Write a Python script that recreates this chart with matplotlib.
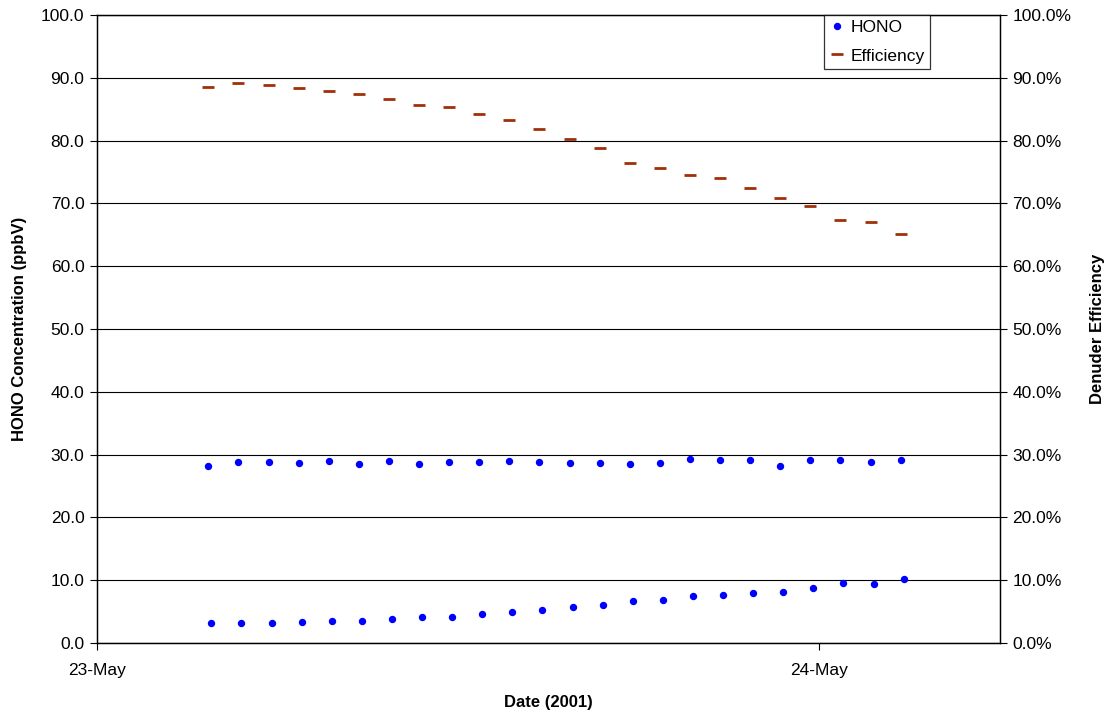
import matplotlib

matplotlib.use("Agg")
import matplotlib.dates as mdates
import matplotlib.pyplot as plt
from matplotlib.ticker import FuncFormatter, MultipleLocator
from datetime import datetime, timedelta

plt.rcParams["font.family"] = ["Liberation Sans", "DejaVu Sans"]

# hours after 23-May 00:00 (2001)
efficiency_hours = [3.7, 4.7, 5.7, 6.7, 7.7, 8.7, 9.7, 10.7, 11.7, 12.7, 13.7, 14.7,
                    15.7, 16.7, 17.7, 18.7, 19.7, 20.7, 21.7, 22.7, 23.7, 24.7, 25.7, 26.7]
high_hours = efficiency_hours
low_hours = [3.8, 4.8, 5.8, 6.8, 7.8, 8.8, 9.8, 10.8, 11.8, 12.8, 13.8, 14.8,
             15.8, 16.8, 17.8, 18.8, 19.8, 20.8, 21.8, 22.8, 23.8, 24.8, 25.8, 26.8]

hono_high = [28.25, 28.77, 28.88, 28.66, 28.98, 28.45, 28.98, 28.57, 28.77, 28.88, 28.98, 28.77,
             28.66, 28.66, 28.57, 28.66, 29.36, 29.14, 29.14, 28.25, 29.09, 29.09, 28.88, 29.09]
hono_low = [3.23, 3.13, 3.23, 3.34, 3.55, 3.55, 3.87, 4.19, 4.19, 4.62, 4.89, 5.21,
            5.73, 6.0, 6.69, 6.9, 7.48, 7.6, 8.0, 8.17, 8.8, 9.5, 9.4, 10.14]
efficiency = [88.6, 89.2, 88.9, 88.4, 87.9, 87.4, 86.7, 85.6, 85.4, 84.3, 83.3, 81.9,
              80.2, 78.9, 76.4, 75.7, 74.5, 74.1, 72.5, 70.8, 69.6, 67.4, 67.1, 65.1]

start = datetime(2001, 5, 23)


def to_dates(hours):
    return [start + timedelta(hours=h) for h in hours]


fig = plt.figure(figsize=(11.08, 7.13), dpi=100)
ax = fig.add_axes([0.0875, 0.098, 0.815, 0.881])
ax2 = ax.twinx()

blue = "#0000ff"
rust = "#a0300a"
ax.plot(to_dates(high_hours), hono_high, "o", color=blue, markersize=4.3, label="HONO", zorder=3)
ax.plot(to_dates(low_hours), hono_low, "o", color=blue, markersize=4.3, zorder=3)
ax2.plot(to_dates(efficiency_hours), efficiency, "_", color=rust, markersize=9,
         markeredgewidth=2, label="Efficiency")

ax.set_xlim(start, start + timedelta(hours=30))
ax.set_ylim(0, 100)
ax2.set_ylim(0, 100)
ax.yaxis.set_major_locator(MultipleLocator(10))
ax2.yaxis.set_major_locator(MultipleLocator(10))
ax.yaxis.set_major_formatter(FuncFormatter(lambda v, p: f"{v:.1f}"))
ax2.yaxis.set_major_formatter(FuncFormatter(lambda v, p: f"{v:.1f}%"))
ax.set_xticks([start, start + timedelta(days=1)])
ax.xaxis.set_major_formatter(mdates.DateFormatter("%d-%b"))

ax.grid(axis="y", color="black", linewidth=0.8)
ax.set_axisbelow(True)
for a in (ax, ax2):
    a.tick_params(labelsize=12.5, direction="out", length=5, width=0.8, pad=4)
    for s in a.spines.values():
        s.set_color("black")
        s.set_linewidth(0.9)
ax.tick_params(axis="x", pad=9)

ax.set_xlabel("Date (2001)", fontsize=12, fontweight="bold")
ax.xaxis.set_label_coords(0.5, -0.082)
ax.set_ylabel("HONO Concentration (ppbV)", fontsize=12, fontweight="bold", labelpad=10)
ax2.set_ylabel("Denuder Efficiency", fontsize=12, fontweight="bold", labelpad=13)

h1, l1 = ax.get_legend_handles_labels()
h2, l2 = ax2.get_legend_handles_labels()
leg = ax2.legend(h1 + h2, l1 + l2, loc="upper right", bbox_to_anchor=(0.9225, 1.0),
                 borderaxespad=0, fontsize=12.5, frameon=True, fancybox=False,
                 edgecolor="black", handlelength=0.8, handletextpad=0.4,
                 borderpad=0.3, labelspacing=0.75)
leg.get_frame().set_linewidth(0.9)

fig.savefig("out.png", dpi=100)
plt.close(fig)
